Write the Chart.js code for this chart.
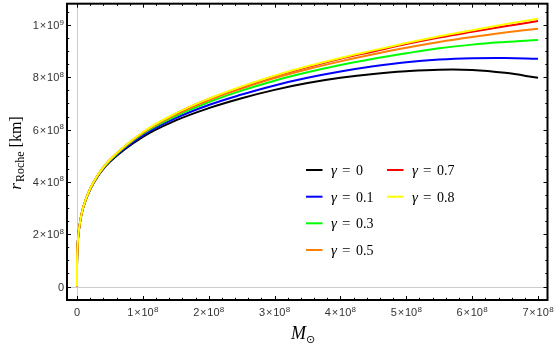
<!DOCTYPE html>
<html>
<head>
<meta charset="utf-8">
<script src="https://cdn.jsdelivr.net/npm/chart.js@4/dist/chart.umd.min.js"></script>
<style>
  html, body { margin: 0; padding: 0; background: #fff; }
  #c { display: block; }
</style>
</head>
<body>
<canvas id="c" width="556" height="349"></canvas>
<script>
// ---- data ----
const massValues = [0, 3e4, 2e5, 1e6, 3e6, 1e7, 2.5e7, 5e7, 1e8, 1.5e8, 2e8, 2.5e8, 3e8, 3.5e8, 4e8, 4.5e8, 5e8, 5.5e8, 6e8, 6.5e8, 7e8];

const rGamma00 = [0, 0.065e9, 0.111e9, 0.160e9, 0.218e9, 0.306e9, 0.395e9, 0.477e9, 0.572e9, 0.635e9, 0.682e9, 0.720e9, 0.752e9, 0.778e9, 0.798e9, 0.813e9, 0.823e9, 0.829e9, 0.828e9, 0.817e9, 0.798e9];
const rGamma01 = [0, 0.065e9, 0.111e9, 0.160e9, 0.218e9, 0.307e9, 0.396e9, 0.480e9, 0.578e9, 0.644e9, 0.694e9, 0.734e9, 0.769e9, 0.798e9, 0.822e9, 0.842e9, 0.858e9, 0.868e9, 0.873e9, 0.874e9, 0.871e9];
const rGamma03 = [0, 0.065e9, 0.111e9, 0.160e9, 0.219e9, 0.307e9, 0.398e9, 0.482e9, 0.584e9, 0.652e9, 0.705e9, 0.749e9, 0.787e9, 0.819e9, 0.847e9, 0.871e9, 0.892e9, 0.911e9, 0.925e9, 0.935e9, 0.943e9];
const rGamma05 = [0, 0.065e9, 0.111e9, 0.160e9, 0.219e9, 0.308e9, 0.398e9, 0.484e9, 0.587e9, 0.657e9, 0.712e9, 0.757e9, 0.797e9, 0.831e9, 0.861e9, 0.888e9, 0.913e9, 0.935e9, 0.954e9, 0.971e9, 0.986e9];
const rGamma07 = [0, 0.065e9, 0.111e9, 0.160e9, 0.219e9, 0.308e9, 0.399e9, 0.485e9, 0.589e9, 0.661e9, 0.717e9, 0.763e9, 0.804e9, 0.839e9, 0.871e9, 0.899e9, 0.927e9, 0.952e9, 0.974e9, 0.995e9, 1.015e9];
const rGamma08 = [0, 0.065e9, 0.111e9, 0.160e9, 0.219e9, 0.308e9, 0.399e9, 0.485e9, 0.590e9, 0.662e9, 0.718e9, 0.765e9, 0.806e9, 0.842e9, 0.874e9, 0.903e9, 0.931e9, 0.957e9, 0.980e9, 1.003e9, 1.024e9];

const gammaLabels = ['0', '0.1', '0.3', '0.5', '0.7', '0.8'];
const seriesColors = ['#000000', '#0000ff', '#00ff00', '#ff7f00', '#ff0000', '#ffff00'];
const seriesValues = [rGamma00, rGamma01, rGamma03, rGamma05, rGamma07, rGamma08];

// tick labels: [mantissa, exponent] ('' exponent = plain number)
const xTickValues = [0, 1e8, 2e8, 3e8, 4e8, 5e8, 6e8, 7e8];
const xTickLabels = [['0', ''], ['1', '8'], ['2', '8'], ['3', '8'], ['4', '8'], ['5', '8'], ['6', '8'], ['7', '8']];
const yTickValues = [0, 2e8, 4e8, 6e8, 8e8, 1e9];
const yTickLabels = [['0', ''], ['2', '8'], ['4', '8'], ['6', '8'], ['8', '8'], ['1', '9']];
const xMinorStep = 0.2e8;
const yMinorStep = 0.5e8;

// ---- drawing ----
const SERIF = '"Liberation Serif", "DejaVu Serif", serif';
const SANS = '"Liberation Sans", "DejaVu Sans", sans-serif';
const TICK_FONT = '11px ' + SANS;
const SUP_FONT = '8px ' + SANS;

function drawPieces(ctx, pieces, startX, baseY) {
  let x = startX;
  for (const p of pieces) {
    ctx.font = p.font;
    ctx.fillText(p.t, x + (p.dx || 0), baseY + (p.dy || 0));
    x += ctx.measureText(p.t).width + (p.dx || 0);
  }
}
function piecesWidth(ctx, pieces) {
  let w = 0;
  for (const p of pieces) { ctx.font = p.font; w += ctx.measureText(p.t).width + (p.dx || 0); }
  return w;
}
function tickPieces(lbl) {
  if (!lbl[1]) return [{ t: lbl[0], font: TICK_FONT }];
  return [
    { t: lbl[0], font: TICK_FONT },
    { t: '×', font: TICK_FONT, dx: 0.8 },
    { t: '10', font: TICK_FONT, dx: 0.8 },
    { t: lbl[1], font: SUP_FONT, dy: -4.5, dx: 0.3 }
  ];
}

const framePlugin = {
  id: 'frame',
  beforeDatasetsDraw(chart) {
    const { ctx, chartArea: a, scales: { x, y } } = chart;
    ctx.save();
    ctx.strokeStyle = '#cccccc';
    ctx.lineWidth = 1;
    const x0 = Math.round(x.getPixelForValue(0)) + 0.5;
    const y0 = Math.round(y.getPixelForValue(0)) + 0.5;
    ctx.beginPath();
    ctx.moveTo(x0, a.top); ctx.lineTo(x0, a.bottom);
    ctx.moveTo(a.left, y0); ctx.lineTo(a.right, y0);
    ctx.stroke();
    ctx.restore();
  },
  afterDatasetsDraw(chart) {
    const { ctx, chartArea: a, scales: { x, y } } = chart;
    ctx.save();
    ctx.strokeStyle = '#000';
    ctx.lineWidth = 1;
    const majL = 4, minL = 2.2;
    ctx.beginPath();
    for (let v = Math.ceil(x.min / xMinorStep) * xMinorStep; v <= x.max; v += xMinorStep) {
      const isMaj = xTickValues.some(t => Math.abs(t - v) < 1);
      const len = isMaj ? majL : minL;
      const px = Math.round(x.getPixelForValue(v)) + 0.5;
      ctx.moveTo(px, a.bottom); ctx.lineTo(px, a.bottom - len);
      ctx.moveTo(px, a.top); ctx.lineTo(px, a.top + len);
    }
    for (let v = Math.ceil(y.min / yMinorStep) * yMinorStep; v <= y.max; v += yMinorStep) {
      const isMaj = yTickValues.some(t => Math.abs(t - v) < 1);
      const len = isMaj ? majL : minL;
      const py = Math.round(y.getPixelForValue(v)) + 0.5;
      ctx.moveTo(a.left, py); ctx.lineTo(a.left + len, py);
      ctx.moveTo(a.right, py); ctx.lineTo(a.right - len, py);
    }
    ctx.stroke();
    ctx.lineWidth = 2;
    ctx.strokeRect(a.left, a.top, a.right - a.left, a.bottom - a.top);
    ctx.restore();
  },
  afterDraw(chart) {
    const { ctx, chartArea: a, scales: { x, y } } = chart;
    ctx.save();
    ctx.textBaseline = 'alphabetic';
    ctx.textAlign = 'left';
    // tick labels
    ctx.fillStyle = '#333';
    xTickValues.forEach((v, i) => {
      const p = tickPieces(xTickLabels[i]);
      const w = piecesWidth(ctx, p);
      drawPieces(ctx, p, x.getPixelForValue(v) - w / 2, a.bottom + 16);
    });
    yTickValues.forEach((v, i) => {
      const p = tickPieces(yTickLabels[i]);
      const w = piecesWidth(ctx, p);
      drawPieces(ctx, p, a.left - 3 - w, y.getPixelForValue(v) + 4);
    });
    ctx.fillStyle = '#000';
    // y axis title (rotated)
    const yPieces = [
      { t: 'r', font: 'italic 17px ' + SERIF },
      { t: 'Roche', font: '12px ' + SERIF, dy: 3, dx: 1 },
      { t: ' [km]', font: '16px ' + SERIF }
    ];
    ctx.translate(21, 153);
    ctx.rotate(-Math.PI / 2);
    drawPieces(ctx, yPieces, -piecesWidth(ctx, yPieces) / 2, 0);
    ctx.setTransform(1, 0, 0, 1, 0, 0);
    // x axis title
    const xPieces = [
      { t: 'M', font: 'italic 18px ' + SERIF },
      { t: '⊙', font: '11px "DejaVu Sans", sans-serif', dy: 4 }
    ];
    drawPieces(ctx, xPieces, 303 - piecesWidth(ctx, xPieces) / 2, 339);
    // legend
    const cols = [
      { lineX: 306, textX: 331, eqX: 342, valX: 356 },
      { lineX: 387, textX: 412, eqX: 423, valX: 437 }
    ];
    const rowY = [170, 196.7, 223.3, 250];
    gammaLabels.forEach((g, i) => {
      const col = i < 4 ? cols[0] : cols[1];
      const ly = i < 4 ? rowY[i] : rowY[i - 4];
      ctx.strokeStyle = seriesColors[i];
      ctx.lineWidth = 2;
      ctx.beginPath();
      ctx.moveTo(col.lineX, ly); ctx.lineTo(col.lineX + 16.5, ly);
      ctx.stroke();
      ctx.fillStyle = '#000';
      ctx.font = 'italic 15px ' + SERIF;
      ctx.fillText('γ', col.textX, ly + 5);
      ctx.font = '15px ' + SERIF;
      ctx.fillText('=', col.eqX, ly + 5);
      ctx.font = '14px ' + SERIF;
      ctx.fillText(g, col.valX, ly + 5);
    });
    ctx.restore();
  }
};

const datasets = seriesValues.map((vals, i) => ({
  label: 'γ = ' + gammaLabels[i],
  data: massValues.map((m, k) => ({ x: m, y: vals[k] })),
  borderColor: seriesColors[i],
  backgroundColor: seriesColors[i],
  borderWidth: 2,
  pointRadius: 0,
  fill: false,
  tension: 0.4,
  order: seriesValues.length - 1 - i
}));

new Chart(document.getElementById('c'), {
  type: 'line',
  data: { datasets },
  options: {
    responsive: false,
    animation: false,
    events: [],
    layout: { padding: { left: 0, right: 8.5, top: 3.7, bottom: 0 } },
    plugins: { legend: { display: false }, tooltip: { enabled: false } },
    scales: {
      x: {
        type: 'linear',
        min: -0.1518e8,
        max: 7.144e8,
        grid: { display: false, drawTicks: false },
        border: { display: false },
        afterBuildTicks: s => { s.ticks = xTickValues.map(v => ({ value: v })); },
        afterFit: s => { s.height = 49; },
        ticks: { display: false }
      },
      y: {
        type: 'linear',
        min: -0.0516e9,
        max: 1.0815e9,
        grid: { display: false, drawTicks: false },
        border: { display: false },
        afterBuildTicks: s => { s.ticks = yTickValues.map(v => ({ value: v })); },
        afterFit: s => { s.width = 67; },
        ticks: { display: false }
      }
    }
  },
  plugins: [framePlugin]
});
</script>
</body>
</html>
